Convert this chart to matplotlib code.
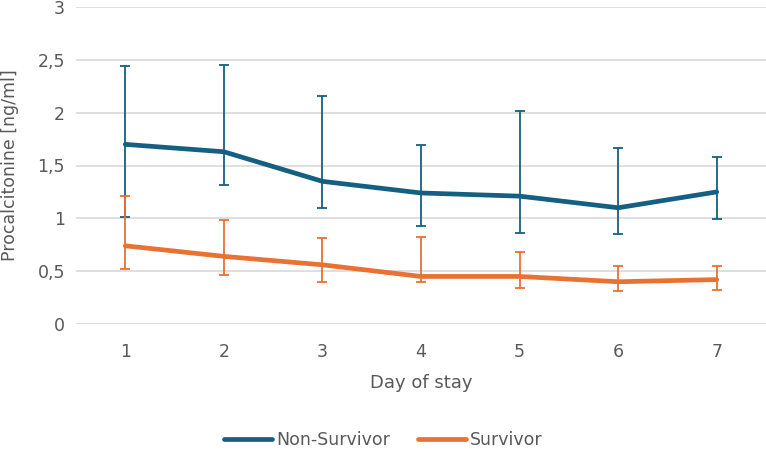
import numpy as np
import matplotlib.pyplot as plt
from matplotlib.ticker import FuncFormatter

days = [1, 2, 3, 4, 5, 6, 7]

non_surv_mean = [1.70, 1.63, 1.35, 1.24, 1.21, 1.10, 1.25]
non_surv_upper = [2.44, 2.45, 2.16, 1.69, 2.02, 1.67, 1.58]
non_surv_lower = [1.01, 1.32, 1.10, 0.93, 0.86, 0.85, 0.99]

surv_mean = [0.74, 0.64, 0.56, 0.45, 0.45, 0.40, 0.42]
surv_upper = [1.21, 0.98, 0.81, 0.82, 0.68, 0.55, 0.55]
surv_lower = [0.52, 0.46, 0.40, 0.40, 0.34, 0.31, 0.32]

blue = '#156082'
orange = '#E97132'
text_col = '#595959'

fig = plt.figure(figsize=(7.66, 4.51), dpi=100)
ax = fig.add_axes([76 / 766, 127 / 451, 690 / 766, 317 / 451])

series = [
    ('Non-Survivor', non_surv_mean, non_surv_lower, non_surv_upper, blue),
    ('Survivor', surv_mean, surv_lower, surv_upper, orange),
]
for name, mean, lo, hi, col in series:
    mean = np.array(mean)
    yerr = [mean - np.array(lo), np.array(hi) - mean]
    ax.errorbar(days, mean, yerr=yerr, fmt='none', ecolor=col,
                elinewidth=1.3, capsize=3.8, capthick=1.3, zorder=3)
    ax.plot(days, mean, color=col, lw=3.4, solid_capstyle='round',
            label=name, zorder=4)

ax.set_xlim(0.5, 7.5)
ax.set_ylim(0, 3)
ax.set_yticks(np.arange(0, 3.01, 0.5))
ax.set_xticks(days)
ax.yaxis.set_major_formatter(FuncFormatter(lambda v, p: ('%g' % v).replace('.', ',')))
ax.grid(axis='y', color='#D9D9D9', lw=1.2)
ax.set_axisbelow(True)
for s in ax.spines.values():
    s.set_visible(False)
ax.tick_params(length=0, labelsize=12.5, colors=text_col, pad=8)
ax.tick_params(axis='x', pad=14)

ax.set_xlabel('Day of stay', fontsize=13, color=text_col, labelpad=9)
ax.set_ylabel('Procalcitonine [ng/ml]', fontsize=12.5, color=text_col, labelpad=13)

fig.legend(loc='center', bbox_to_anchor=(0.5, 11 / 451), ncol=2, frameon=False,
           fontsize=12.5, labelcolor=text_col, handlelength=2.8, columnspacing=1.6,
           handletextpad=0.2)

fig.savefig('out.png', dpi=100)
